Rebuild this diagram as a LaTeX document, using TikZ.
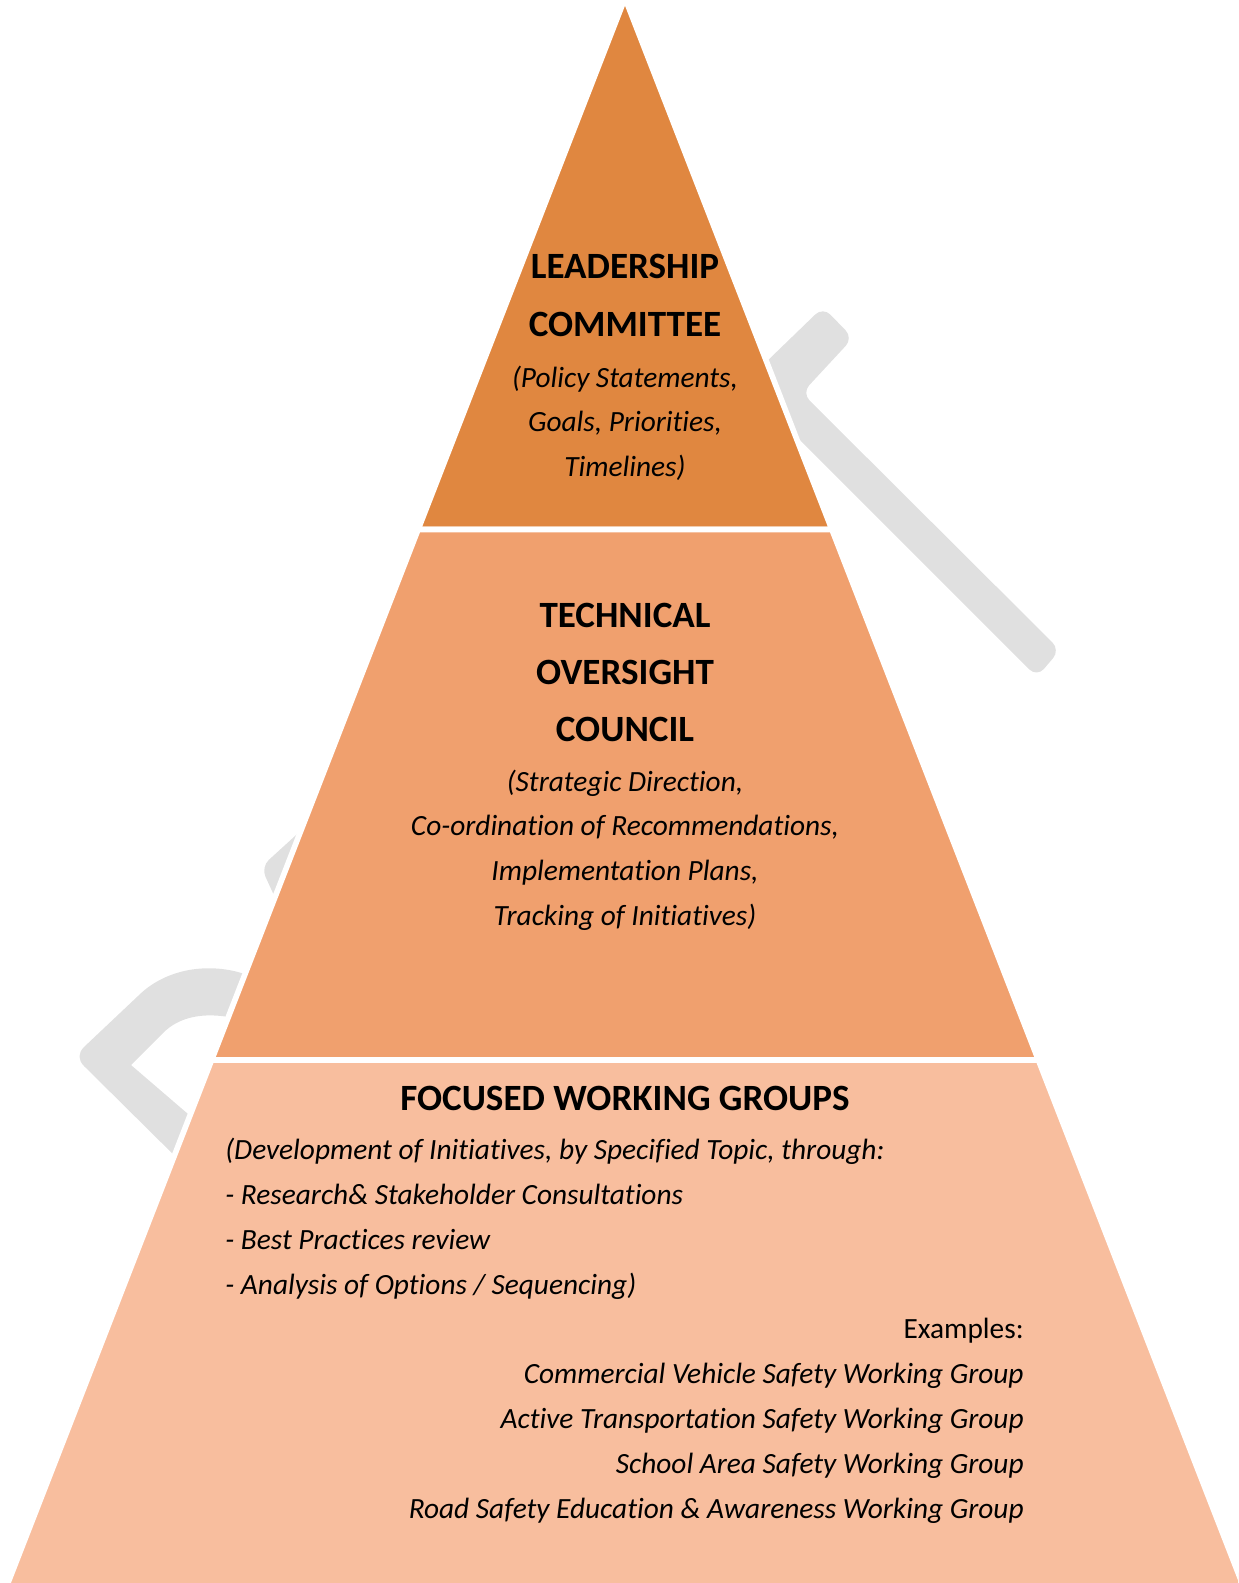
\documentclass[tikz,border=0pt]{standalone}
\usepackage{fontspec}
\setmainfont{Carlito}[Ligatures=NoCommon]
\definecolor{tierone}{RGB}{224,135,64}
\definecolor{tiertwo}{RGB}{240,160,110}
\definecolor{tierthree}{RGB}{248,190,158}
\definecolor{wmgray}{RGB}{224,224,224}

\begin{document}
\begin{tikzpicture}[x=0.02cm, y=-0.02cm,
	tier/.style={draw=white, line width=3.2pt, line join=round},
	head/.style={font=\fontsize{21.1}{25}\selectfont\bfseries, anchor=base, inner sep=0pt},
	body/.style={font=\fontsize{16.7}{20}\selectfont\itshape, anchor=base, inner sep=0pt}]
	\useasboundingbox (0,0) rectangle (1238,1583);
	\clip (0,0) rectangle (1238,1583);
	% watermark behind the pyramid
	\begin{scope}
		\fill[wmgray, rounded corners=6] (762,366) -- (823,307) -- (853,338) -- (802,393) -- (1060,650) -- (1037,677) -- (760,400) -- cycle;
		\fill[wmgray, rounded corners=6] (306,826) -- (261,867) -- (278,904) -- (320,880) -- cycle;
		\fill[wmgray] (250,976) .. controls (215,962) and (168,966) .. (138,996)
			-- (84,1047) .. controls (78,1053) and (78,1060) .. (84,1066)
			-- (185,1166) -- (230,1140) -- (195,1120)
			-- (131,1065) -- (163,1033) .. controls (180,1016) and (205,1012) .. (234,1018) -- cycle;
	\end{scope}
	% the three tiers
	\filldraw[tier, fill=tierone] (625,-2) -- (831.9,529.5) -- (418.1,529.5) -- cycle;
	\filldraw[tier, fill=tiertwo] (418.1,529.5) -- (831.9,529.5) -- (1038.4,1060) -- (211.6,1060) -- cycle;
	\filldraw[tier, fill=tierthree] (211.6,1060) -- (1038.4,1060) -- (1244.8,1590) -- (5.2,1590) -- cycle;
	% top tier
	\node[head] (lead1) at (625,278) {LEADERSHIP};
	\node[head] (lead2) at (625,336) {COMMITTEE};
	\node[body] (lead3) at (625,387) {(Policy Statements,};
	\node[body] (lead4) at (625,431.5) {Goals, Priorities,};
	\node[body] (lead5) at (625,476) {Timelines)};
	% middle tier
	\node[head] (tech1) at (625,627) {TECHNICAL};
	\node[head] (tech2) at (625,684) {OVERSIGHT};
	\node[head] (tech3) at (625,741) {COUNCIL};
	\node[body] (tech4) at (625,791) {(Strategic Direction,};
	\node[body] (tech5) at (625,835.5) {Co-ordination of Recommendations,};
	\node[body] (tech6) at (625,880) {Implementation Plans,};
	\node[body] (tech7) at (625,925) {Tracking of Initiatives)};
	% bottom tier
	\node[head] (work1) at (625,1110) {FOCUSED WORKING GROUPS};
	\node[body, anchor=base west] (work2) at (225,1159) {(Development of Initiatives, by Specified Topic, through:};
	\node[body, anchor=base west] (work3) at (225,1204) {- Research\& Stakeholder Consultations};
	\node[body, anchor=base west] (work4) at (225,1249) {- Best Practices review};
	\node[body, anchor=base west] (work5) at (225,1294) {- Analysis of Options / Sequencing)};
	\node[body, anchor=base east, font=\fontsize{16.7}{20}\selectfont] (ex0) at (1024,1338) {Examples:};
	\node[body, anchor=base east] (ex1) at (1024,1383) {Commercial Vehicle Safety Working Group};
	\node[body, anchor=base east] (ex2) at (1024,1428) {Active Transportation Safety Working Group};
	\node[body, anchor=base east] (ex3) at (1024,1473) {School Area Safety Working Group};
	\node[body, anchor=base east] (ex4) at (1024,1518) {Road Safety Education \& Awareness Working Group};
\end{tikzpicture}
\end{document}
